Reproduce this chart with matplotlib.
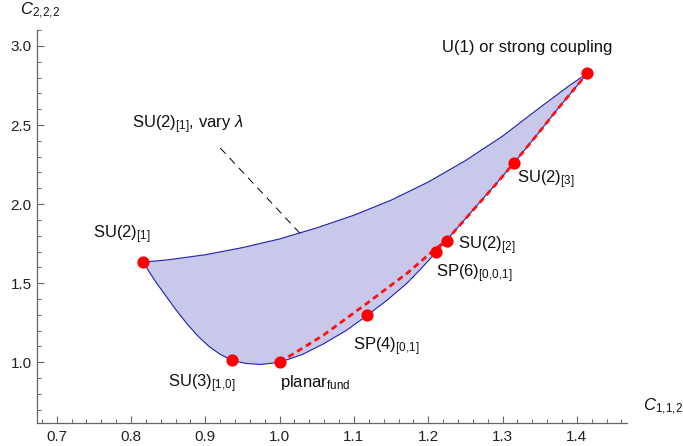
import matplotlib
matplotlib.use('Agg')
import matplotlib.pyplot as plt
from matplotlib.ticker import MultipleLocator
import numpy as np

plt.rcParams['font.family'] = ['Liberation Sans', 'DejaVu Sans']
plt.rcParams['mathtext.fontset'] = 'custom'
plt.rcParams['mathtext.rm'] = 'Liberation Sans'
plt.rcParams['mathtext.it'] = 'Liberation Sans:italic'
plt.rcParams['mathtext.bf'] = 'Liberation Sans:bold'

# upper boundary (SU(2)_[1] with varying lambda)
upper_x = [0.8166, 0.85, 0.90, 0.95, 1.00, 1.05, 1.10, 1.15, 1.20, 1.25, 1.30, 1.35, 1.39, 1.4142]
upper_y = [1.633, 1.648, 1.680, 1.725, 1.780, 1.850, 1.930, 2.025, 2.140, 2.275, 2.430, 2.610, 2.750, 2.828]

# lower boundary
lower_x = [0.8166, 0.825, 0.835, 0.845, 0.86, 0.875, 0.89, 0.905, 0.92, 0.9355, 0.955, 0.975, 1.0,
           1.03, 1.0589, 1.09, 1.118, 1.145, 1.171, 1.19, 1.2105, 1.224, 1.26, 1.29, 1.3155,
           1.345, 1.373, 1.4142]
lower_y = [1.633, 1.568, 1.497, 1.432, 1.335, 1.245, 1.166, 1.100, 1.050, 1.013, 0.992, 0.986, 1.0,
           1.048, 1.116, 1.202, 1.297, 1.394, 1.498, 1.590, 1.696, 1.768, 1.962, 2.122, 2.261,
           2.430, 2.595, 2.828]

# red dashed curve
red_x = [1.0, 1.0589, 1.117, 1.171, 1.2105, 1.224, 1.26, 1.29, 1.3155, 1.345, 1.373, 1.4142]
red_y = [1.0, 1.171, 1.371, 1.561, 1.72, 1.768, 1.96, 2.12, 2.261, 2.43, 2.595, 2.828]

# special points
pt_names = ['SU(2)$_{[1]}$', 'SU(3)$_{[1,\\!0]}$', 'planar$_{\\mathrm{fund}}$', 'SP(4)$_{[0,\\!1]}$',
            'SP(6)$_{[0,\\!0,\\!1]}$', 'SU(2)$_{[2]}$', 'SU(2)$_{[3]}$', 'U(1) or strong coupling']
pt_x = [0.8166, 0.9355, 1.0, 1.118, 1.2105, 1.2247, 1.3155, 1.4142]
pt_y = [1.633, 1.013, 1.0, 1.30, 1.70, 1.768, 2.261, 2.828]
# label anchor (x, y, ha)
lab_pos = [(0.8258, 1.783, 'right'), (0.850, 0.844, 'left'), (1.0007, 0.844, 'left'),
           (1.099, 1.076, 'left'), (1.2105, 1.536, 'left'), (1.2396, 1.713, 'left'),
           (1.3195, 2.131, 'left'), (1.333, 2.960, 'center')]

fig = plt.figure(figsize=(6.83, 4.46), dpi=100)
ax = fig.add_axes([0.0546, 0.0516, 0.8630, 0.8811])

ax.fill(upper_x + lower_x[::-1], upper_y + lower_y[::-1], color='#c8c8ea', lw=0, zorder=1)
ax.plot(upper_x, upper_y, color='#2020b0', lw=0.8, zorder=2)
ax.plot(lower_x, lower_y, color='#2020b0', lw=0.8, zorder=2)
ax.plot(red_x, red_y, color='#ff1010', lw=2.0, dashes=(2.2, 1.5), zorder=3)
ax.plot(pt_x, pt_y, 'o', color='#ff0000', ms=8.8, mec='none', zorder=4)

for name, (lx, ly, ha) in zip(pt_names, lab_pos):
    ax.text(lx, ly, name, fontsize=12, ha=ha, va='baseline', color='#111111')

# pointer for the varying-lambda curve
ax.plot([0.9201, 1.0275], [2.355, 1.815], color='k', lw=0.7, dashes=(8, 6), zorder=2)
ax.text(0.8016, 2.479, 'SU(2)$_{[1]}$, vary $\\lambda$', fontsize=12, ha='left', va='baseline',
        color='#111111')

ax.set_xlim(0.6739, 1.4671)
ax.set_ylim(0.616, 3.101)

for s in ['top', 'right']:
    ax.spines[s].set_visible(False)
for s in ['left', 'bottom']:
    ax.spines[s].set_color('#666666')
    ax.spines[s].set_linewidth(0.9)

ax.xaxis.set_major_locator(MultipleLocator(0.1))
ax.xaxis.set_minor_locator(MultipleLocator(0.02))
ax.yaxis.set_major_locator(MultipleLocator(0.5))
ax.yaxis.set_minor_locator(MultipleLocator(0.1))
ax.xaxis.set_major_formatter(plt.FormatStrFormatter('%.1f'))
ax.yaxis.set_major_formatter(plt.FormatStrFormatter('%.1f'))
ax.tick_params(which='both', direction='in', color='#666666', labelcolor='#222222', labelsize=11)
ax.tick_params(which='major', length=5, width=0.8)
ax.tick_params(which='minor', length=3, width=0.7)
ax.tick_params(axis='x', pad=5)
ax.tick_params(axis='y', pad=4)

ax.text(0.6506, 3.196, '$C_{2,\\!2,\\!2}$', fontsize=12, ha='left', va='baseline', color='#111111')
ax.text(1.489, 0.696, '$C_{1,\\!1,\\!2}$', fontsize=12, ha='left', va='baseline', color='#111111')

fig.savefig('out.png', dpi=100)
